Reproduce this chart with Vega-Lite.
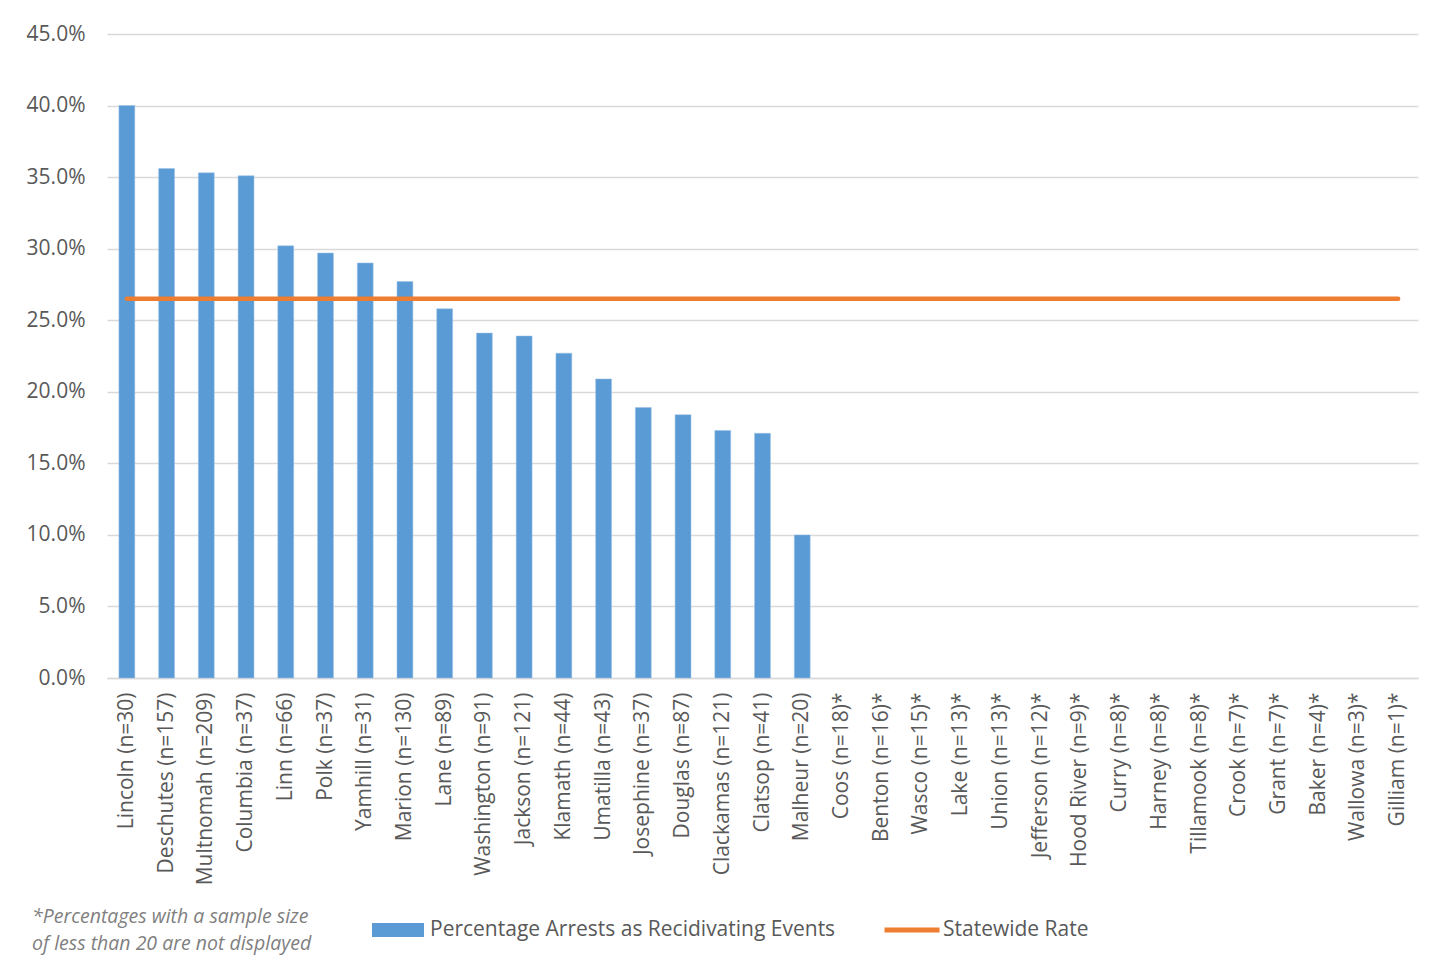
{
  "$schema": "https://vega.github.io/schema/vega-lite/v6.json",
  "autosize": {"type": "none"},
  "width": 1311,
  "height": 644,
  "padding": {"left": 107, "top": 34, "right": 32, "bottom": 286},
  "background": "white",
  "config": {
    "view": {"stroke": null},
    "font": "Open Sans",
    "axis": {"labelFont": "Open Sans", "labelColor": "#595959", "labelFontSize": 21}
  },
  "title": {
    "text": ["*Percentages with a sample size", "of less than 20 are not displayed"],
    "orient": "bottom",
    "anchor": "start",
    "frame": "group",
    "dx": -75,
    "offset": -32,
    "font": "Open Sans",
    "fontStyle": "italic",
    "fontWeight": "normal",
    "fontSize": 19.5,
    "lineHeight": 27,
    "color": "#7f7f7f"
  },
  "data": {
    "values": [
      {"county": "Lincoln (n=30)", "pct": 40.0, "statewide": 26.5},
      {"county": "Deschutes (n=157)", "pct": 35.6, "statewide": 26.5},
      {"county": "Multnomah (n=209)", "pct": 35.3, "statewide": 26.5},
      {"county": "Columbia (n=37)", "pct": 35.1, "statewide": 26.5},
      {"county": "Linn (n=66)", "pct": 30.2, "statewide": 26.5},
      {"county": "Polk (n=37)", "pct": 29.7, "statewide": 26.5},
      {"county": "Yamhill (n=31)", "pct": 29.0, "statewide": 26.5},
      {"county": "Marion (n=130)", "pct": 27.7, "statewide": 26.5},
      {"county": "Lane (n=89)", "pct": 25.8, "statewide": 26.5},
      {"county": "Washington (n=91)", "pct": 24.1, "statewide": 26.5},
      {"county": "Jackson (n=121)", "pct": 23.9, "statewide": 26.5},
      {"county": "Klamath (n=44)", "pct": 22.7, "statewide": 26.5},
      {"county": "Umatilla (n=43)", "pct": 20.9, "statewide": 26.5},
      {"county": "Josephine (n=37)", "pct": 18.9, "statewide": 26.5},
      {"county": "Douglas (n=87)", "pct": 18.4, "statewide": 26.5},
      {"county": "Clackamas (n=121)", "pct": 17.3, "statewide": 26.5},
      {"county": "Clatsop (n=41)", "pct": 17.1, "statewide": 26.5},
      {"county": "Malheur (n=20)", "pct": 10.0, "statewide": 26.5},
      {"county": "Coos (n=18)*", "pct": null, "statewide": 26.5},
      {"county": "Benton (n=16)*", "pct": null, "statewide": 26.5},
      {"county": "Wasco (n=15)*", "pct": null, "statewide": 26.5},
      {"county": "Lake (n=13)*", "pct": null, "statewide": 26.5},
      {"county": "Union (n=13)*", "pct": null, "statewide": 26.5},
      {"county": "Jefferson (n=12)*", "pct": null, "statewide": 26.5},
      {"county": "Hood River (n=9)*", "pct": null, "statewide": 26.5},
      {"county": "Curry (n=8)*", "pct": null, "statewide": 26.5},
      {"county": "Harney (n=8)*", "pct": null, "statewide": 26.5},
      {"county": "Tillamook (n=8)*", "pct": null, "statewide": 26.5},
      {"county": "Crook (n=7)*", "pct": null, "statewide": 26.5},
      {"county": "Grant (n=7)*", "pct": null, "statewide": 26.5},
      {"county": "Baker (n=4)*", "pct": null, "statewide": 26.5},
      {"county": "Wallowa (n=3)*", "pct": null, "statewide": 26.5},
      {"county": "Gilliam (n=1)*", "pct": null, "statewide": 26.5}
    ]
  },
  "encoding": {
    "x": {
      "field": "county",
      "type": "nominal",
      "sort": null,
      "scale": {"paddingInner": 0.6, "paddingOuter": 0.3},
      "axis": {
        "title": null,
        "labelAngle": -90,
        "labelPadding": 14,
        "ticks": false,
        "domainColor": "#d9d9d9",
        "domainWidth": 1.5,
        "labelLimit": 300
      }
    }
  },
  "layer": [
    {
      "mark": {"type": "bar", "stroke": "#9dc3e6", "strokeWidth": 0.5},
      "encoding": {
        "y": {
          "field": "pct",
          "type": "quantitative",
          "scale": {"domain": [0, 45], "nice": false},
          "axis": {
            "title": null,
            "values": [0, 5, 10, 15, 20, 25, 30, 35, 40, 45],
            "labelExpr": "format(datum.value, '.1f') + '%'",
            "ticks": false,
            "domain": false,
            "gridColor": "#d9d9d9",
            "gridWidth": 1.5,
            "labelPadding": 22
          }
        },
        "color": {
          "datum": "Percentage Arrests as Recidivating Events",
          "scale": {"range": ["#5b9bd5"]},
          "legend": {
            "title": null,
            "orient": "none",
            "legendX": 265,
            "legendY": 870,
            "symbolType": "M-1,-0.27H1V0.27H-1Z",
            "symbolSize": 2704,
            "symbolOpacity": 1,
            "symbolStrokeWidth": 0,
            "labelFont": "Open Sans",
            "labelFontSize": 21,
            "labelColor": "#595959",
            "labelOffset": 6,
            "labelLimit": 600
          }
        }
      }
    },
    {
      "mark": {"type": "line", "strokeWidth": 4.5, "strokeCap": "round"},
      "encoding": {
        "y": {"field": "statewide", "type": "quantitative"},
        "stroke": {
          "datum": "Statewide Rate",
          "scale": {"range": ["#ed7d31"]},
          "legend": {
            "title": null,
            "orient": "none",
            "legendX": 775,
            "legendY": 866,
            "symbolType": "stroke",
            "symbolSize": 3025,
            "symbolStrokeWidth": 5,
            "labelFont": "Open Sans",
            "labelFontSize": 21,
            "labelColor": "#595959",
            "labelOffset": 1
          }
        }
      }
    }
  ]
}
